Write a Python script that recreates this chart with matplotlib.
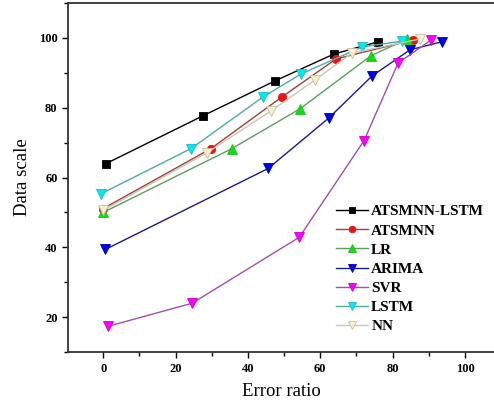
import matplotlib
matplotlib.use("Agg")
import matplotlib.pyplot as plt
from matplotlib.ticker import MultipleLocator

plt.rcParams['font.family'] = ['Liberation Serif', 'DejaVu Serif']

x_atsmnn_lstm = [0.8, 27.6, 47.5, 63.8, 76.0]
y_atsmnn_lstm = [64.0, 77.7, 87.7, 95.4, 98.9]

x_atsmnn = [0.0, 29.8, 49.4, 64.4, 85.6]
y_atsmnn = [51.1, 68.3, 83.1, 94.0, 99.4]

x_lr = [0.0, 35.6, 54.4, 74.0, 84.0]
y_lr = [50.0, 68.3, 79.7, 94.9, 99.7]

x_arima = [0.6, 45.6, 62.4, 74.3, 84.8, 93.6]
y_arima = [39.4, 62.6, 77.1, 89.1, 96.6, 98.9]

x_svr = [1.4, 24.6, 54.2, 72.1, 81.5, 90.6]
y_svr = [17.4, 24.0, 42.9, 70.6, 92.8, 99.4]

x_lstm = [-0.5, 24.3, 44.2, 54.7, 71.5, 82.6]
y_lstm = [55.4, 68.3, 83.1, 89.7, 97.4, 99.1]

x_nn = [0.0, 28.7, 46.4, 58.6, 68.8, 87.6]
y_nn = [50.6, 67.1, 79.1, 88.0, 95.7, 99.7]

labels = ["ATSMNN-LSTM", "ATSMNN", "LR", "ARIMA", "SVR", "LSTM", "NN"]

fig = plt.figure(figsize=(4.94, 4.08), dpi=100)
ax = fig.add_axes([0.1377, 0.137, 0.8623, 0.8556])

series = [
    (x_atsmnn_lstm, y_atsmnn_lstm, '#000000', 's', '#000000', '#000000', 5.5),
    (x_atsmnn, y_atsmnn, '#a04038', 'o', '#ee1111', '#cc2222', 6),
    (x_lr, y_lr, '#5aa05a', '^', '#11dd11', '#22bb22', 7),
    (x_arima, y_arima, '#1a1a8a', 'v', '#0000ee', '#0000aa', 7),
    (x_svr, y_svr, '#a050b0', 'v', '#ff00ff', '#cc00cc', 7),
    (x_lstm, y_lstm, '#50a8a8', 'v', '#00eaf0', '#20b8c0', 7),
    (x_nn, y_nn, '#c8c8b8', 'v', '#f8f0c8', '#c8c0a0', 7),
]
for (xs, ys, lc, m, mfc, mec, ms), lab in zip(series, labels):
    ax.plot(xs, ys, color=lc, lw=1.0, marker=m, markersize=ms,
            markerfacecolor=mfc, markeredgecolor=mec, markeredgewidth=0.6,
            label=lab)

ax.set_xlim(-9.7, 108)
ax.set_ylim(10, 110)
ax.xaxis.set_major_locator(MultipleLocator(20))
ax.xaxis.set_minor_locator(MultipleLocator(10))
ax.yaxis.set_major_locator(MultipleLocator(20))
ax.yaxis.set_minor_locator(MultipleLocator(10))
ax.tick_params(which='both', direction='out', width=1.0)
ax.tick_params(which='major', length=4)
ax.tick_params(which='minor', length=3)
for lab in ax.get_xticklabels() + ax.get_yticklabels():
    lab.set_fontweight('bold')
    lab.set_fontsize(9)
ax.spines['right'].set_visible(False)
for s in ['left', 'bottom', 'top']:
    ax.spines[s].set_linewidth(1.3)
    ax.spines[s].set_color('#333333')

ax.set_xlabel("Error ratio", fontsize=13.5, labelpad=6)
ax.set_ylabel("Data scale", fontsize=13.5, labelpad=6)

leg = ax.legend(loc='upper left', bbox_to_anchor=(0.615, 0.44), frameon=False,
                prop={'weight': 'bold', 'size': 11}, handlelength=2.1,
                handletextpad=0.2, labelspacing=0.36, borderaxespad=0,
                markerscale=0.8)

fig.savefig("out.png", dpi=100)
